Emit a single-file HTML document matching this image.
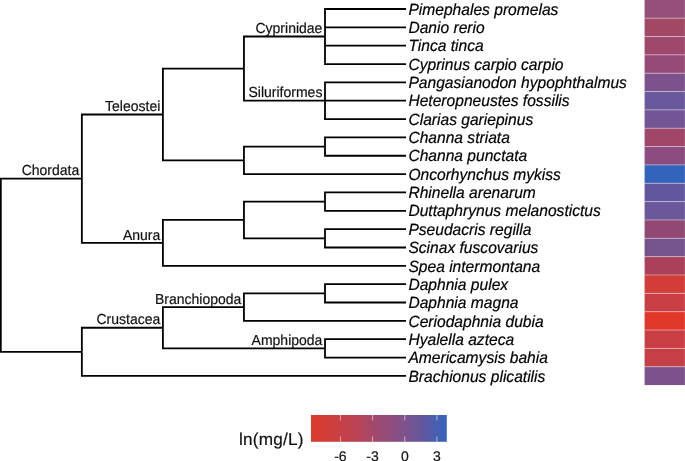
<!DOCTYPE html>
<html><head><meta charset="utf-8"><style>
html,body{margin:0;padding:0;background:#fff;width:685px;height:461px;overflow:hidden}
svg{display:block;font-family:"Liberation Sans",sans-serif}
text{will-change:transform;text-rendering:geometricPrecision}
</style></head><body>
<svg width="685" height="461" viewBox="0 0 685 461">
<defs><linearGradient id="g" x1="0" x2="1" y1="0" y2="0">
<stop offset="0.000" stop-color="rgb(218,59,47)"/><stop offset="0.050" stop-color="rgb(218,59,47)"/><stop offset="0.050" stop-color="rgb(213,60,52)"/><stop offset="0.100" stop-color="rgb(213,60,52)"/><stop offset="0.100" stop-color="rgb(208,62,58)"/><stop offset="0.150" stop-color="rgb(208,62,58)"/><stop offset="0.150" stop-color="rgb(204,63,64)"/><stop offset="0.200" stop-color="rgb(204,63,64)"/><stop offset="0.200" stop-color="rgb(198,64,70)"/><stop offset="0.250" stop-color="rgb(198,64,70)"/><stop offset="0.250" stop-color="rgb(192,66,77)"/><stop offset="0.300" stop-color="rgb(192,66,77)"/><stop offset="0.300" stop-color="rgb(185,67,85)"/><stop offset="0.350" stop-color="rgb(185,67,85)"/><stop offset="0.350" stop-color="rgb(178,69,92)"/><stop offset="0.400" stop-color="rgb(178,69,92)"/><stop offset="0.400" stop-color="rgb(169,71,101)"/><stop offset="0.450" stop-color="rgb(169,71,101)"/><stop offset="0.450" stop-color="rgb(161,73,109)"/><stop offset="0.500" stop-color="rgb(161,73,109)"/><stop offset="0.500" stop-color="rgb(153,76,117)"/><stop offset="0.550" stop-color="rgb(153,76,117)"/><stop offset="0.550" stop-color="rgb(145,77,124)"/><stop offset="0.600" stop-color="rgb(145,77,124)"/><stop offset="0.600" stop-color="rgb(137,79,131)"/><stop offset="0.650" stop-color="rgb(137,79,131)"/><stop offset="0.650" stop-color="rgb(128,81,138)"/><stop offset="0.700" stop-color="rgb(128,81,138)"/><stop offset="0.700" stop-color="rgb(119,83,145)"/><stop offset="0.750" stop-color="rgb(119,83,145)"/><stop offset="0.750" stop-color="rgb(110,85,152)"/><stop offset="0.800" stop-color="rgb(110,85,152)"/><stop offset="0.800" stop-color="rgb(98,88,159)"/><stop offset="0.850" stop-color="rgb(98,88,159)"/><stop offset="0.850" stop-color="rgb(85,91,168)"/><stop offset="0.900" stop-color="rgb(85,91,168)"/><stop offset="0.900" stop-color="rgb(72,95,177)"/><stop offset="0.950" stop-color="rgb(72,95,177)"/><stop offset="0.950" stop-color="rgb(59,98,186)"/><stop offset="1.000" stop-color="rgb(59,98,186)"/>
</linearGradient></defs>
<path d="M0.80 177.79V352.72M-0.10 178.69H81.85M81.85 113.58V243.80M80.95 114.48H162.90M162.90 67.72V161.25M162.00 68.62H243.95M243.95 35.62V101.62M243.05 36.52H325.00M325.00 8.10V64.94M324.10 9.00H406.05M324.10 27.34H406.05M324.10 45.69H406.05M324.10 64.03H406.05M243.05 100.72H325.00M325.00 81.48V119.97M324.10 82.38H406.05M324.10 100.72H406.05M324.10 119.07H406.05M162.00 160.35H243.95M243.95 145.69V175.00M243.05 146.59H325.00M325.00 136.51V156.66M324.10 137.41H406.05M324.10 155.76H406.05M243.05 174.10H406.05M80.95 242.90H162.90M162.90 219.07V266.73M162.00 219.97H243.95M243.95 200.72V239.21M243.05 201.62H325.00M325.00 191.55V211.69M324.10 192.45H406.05M324.10 210.79H406.05M243.05 238.31H325.00M325.00 228.24V248.38M324.10 229.14H406.05M324.10 247.48H406.05M162.00 265.83H406.05M-0.10 351.82H81.85M81.85 326.84V376.80M80.95 327.74H162.90M162.90 306.21V349.28M162.00 307.11H243.95M243.95 292.45V321.76M243.05 293.35H325.00M325.00 283.27V303.42M324.10 284.17H406.05M324.10 302.52H406.05M243.05 320.87H406.05M162.00 348.38H325.00M325.00 338.31V358.45M324.10 339.21H406.05M324.10 357.55H406.05M80.95 375.90H406.05" stroke="#000" stroke-width="1.8" fill="none"/>
<g font-size="14" fill="#111" stroke="#111" stroke-width="0.2"><text transform="translate(322.40 33.22) scale(1 1.04)" text-anchor="end">Cyprinidae</text><text transform="translate(322.40 97.42) scale(1 1.04)" text-anchor="end">Siluriformes</text><text transform="translate(160.30 111.18) scale(1 1.04)" text-anchor="end">Teleostei</text><text transform="translate(160.30 239.60) scale(1 1.04)" text-anchor="end">Anura</text><text transform="translate(79.25 175.39) scale(1 1.04)" text-anchor="end">Chordata</text><text transform="translate(241.35 303.81) scale(1 1.04)" text-anchor="end">Branchiopoda</text><text transform="translate(322.40 345.08) scale(1 1.04)" text-anchor="end">Amphipoda</text><text transform="translate(160.30 324.44) scale(1 1.04)" text-anchor="end">Crustacea</text></g>
<g font-size="15.6" font-style="italic" fill="#000" stroke="#000" stroke-width="0.2"><text transform="translate(408.4 14.70) scale(1 1.04)">Pimephales promelas</text><text transform="translate(408.4 33.05) scale(1 1.04)">Danio rerio</text><text transform="translate(408.4 51.39) scale(1 1.04)">Tinca tinca</text><text transform="translate(408.4 69.73) scale(1 1.04)">Cyprinus carpio carpio</text><text transform="translate(408.4 88.08) scale(1 1.04)">Pangasianodon hypophthalmus</text><text transform="translate(408.4 106.42) scale(1 1.04)">Heteropneustes fossilis</text><text transform="translate(408.4 124.77) scale(1 1.04)">Clarias gariepinus</text><text transform="translate(408.4 143.11) scale(1 1.04)">Channa striata</text><text transform="translate(408.4 161.46) scale(1 1.04)">Channa punctata</text><text transform="translate(408.4 179.80) scale(1 1.04)">Oncorhynchus mykiss</text><text transform="translate(408.4 198.15) scale(1 1.04)">Rhinella arenarum</text><text transform="translate(408.4 216.49) scale(1 1.04)">Duttaphrynus melanostictus</text><text transform="translate(408.4 234.84) scale(1 1.04)">Pseudacris regilla</text><text transform="translate(408.4 253.18) scale(1 1.04)">Scinax fuscovarius</text><text transform="translate(408.4 271.53) scale(1 1.04)">Spea intermontana</text><text transform="translate(408.4 289.87) scale(1 1.04)">Daphnia pulex</text><text transform="translate(408.4 308.22) scale(1 1.04)">Daphnia magna</text><text transform="translate(408.4 326.56) scale(1 1.04)">Ceriodaphnia dubia</text><text transform="translate(408.4 344.91) scale(1 1.04)">Hyalella azteca</text><text transform="translate(408.4 363.25) scale(1 1.04)">Americamysis bahia</text><text transform="translate(408.4 381.60) scale(1 1.04)">Brachionus plicatilis</text></g>
<g><rect x="644.6" y="-0.17" width="40.3" height="18.34" fill="#964E7A"/><rect x="644.6" y="18.17" width="40.3" height="18.34" fill="#A04864"/><rect x="644.6" y="36.52" width="40.3" height="18.34" fill="#A0486C"/><rect x="644.6" y="54.86" width="40.3" height="18.34" fill="#964B76"/><rect x="644.6" y="73.21" width="40.3" height="18.34" fill="#7D528C"/><rect x="644.6" y="91.55" width="40.3" height="18.34" fill="#69589B"/><rect x="644.6" y="109.90" width="40.3" height="18.34" fill="#735596"/><rect x="644.6" y="128.24" width="40.3" height="18.34" fill="#A04669"/><rect x="644.6" y="146.59" width="40.3" height="18.34" fill="#8C4C80"/><rect x="644.6" y="164.93" width="40.3" height="18.34" fill="#3463BC"/><rect x="644.6" y="183.28" width="40.3" height="18.34" fill="#62569E"/><rect x="644.6" y="201.62" width="40.3" height="18.34" fill="#6A589B"/><rect x="644.6" y="219.97" width="40.3" height="18.34" fill="#914873"/><rect x="644.6" y="238.31" width="40.3" height="18.34" fill="#76528F"/><rect x="644.6" y="256.66" width="40.3" height="18.34" fill="#AA4159"/><rect x="644.6" y="275.00" width="40.3" height="18.34" fill="#D23D38"/><rect x="644.6" y="293.35" width="40.3" height="18.34" fill="#C83E44"/><rect x="644.6" y="311.69" width="40.3" height="18.34" fill="#E13728"/><rect x="644.6" y="330.04" width="40.3" height="18.34" fill="#C83E44"/><rect x="644.6" y="348.38" width="40.3" height="18.34" fill="#C63E46"/><rect x="644.6" y="366.73" width="40.3" height="18.34" fill="#7B528C"/></g>
<g stroke="#fff" stroke-opacity="0.42" stroke-width="1"><path d="M644.6 18.17H684.9"/><path d="M644.6 36.52H684.9"/><path d="M644.6 54.86H684.9"/><path d="M644.6 73.21H684.9"/><path d="M644.6 91.55H684.9"/><path d="M644.6 109.90H684.9"/><path d="M644.6 128.24H684.9"/><path d="M644.6 146.59H684.9"/><path d="M644.6 164.93H684.9"/><path d="M644.6 183.28H684.9"/><path d="M644.6 201.62H684.9"/><path d="M644.6 219.97H684.9"/><path d="M644.6 238.31H684.9"/><path d="M644.6 256.66H684.9"/><path d="M644.6 275.00H684.9"/><path d="M644.6 293.35H684.9"/><path d="M644.6 311.69H684.9"/><path d="M644.6 330.04H684.9"/><path d="M644.6 348.38H684.9"/><path d="M644.6 366.73H684.9"/></g>
<rect x="311.0" y="415" width="135.8" height="26.8" fill="url(#g)"/>
<g stroke="#fff" stroke-opacity="0.55" stroke-width="1">
<path d="M340.4 415V420.4M340.4 436.4V441.8M372.6 415V420.4M372.6 436.4V441.8M404.8 415V420.4M404.8 436.4V441.8M436.9 415V420.4M436.9 436.4V441.8"/>
</g>
<text x="239" y="444.8" font-size="17.2" letter-spacing="0.2" fill="#111" stroke="#111" stroke-width="0.2">ln(mg/L)</text>
<g font-size="14" fill="#111" stroke="#111" stroke-width="0.2" text-anchor="middle">
<text x="340.4" y="460.8">-6</text><text x="372.6" y="460.8">-3</text><text x="404.8" y="460.8">0</text><text x="436.9" y="460.8">3</text>
</g>
</svg>
</body></html>
